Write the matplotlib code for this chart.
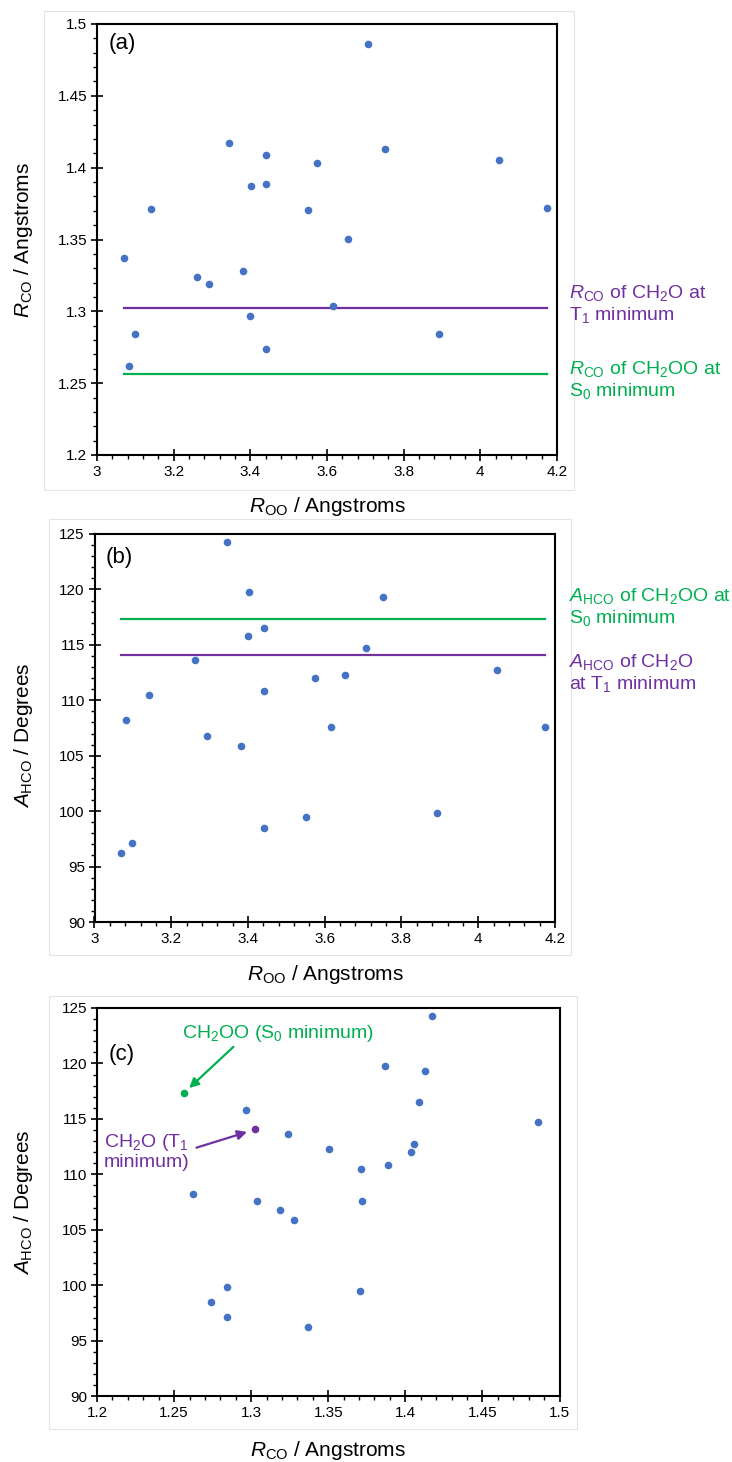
import matplotlib
matplotlib.use("Agg")
import matplotlib.pyplot as plt
from matplotlib.ticker import MultipleLocator
from matplotlib.patches import Rectangle

# ---------------- data ----------------
r_oo = [3.070, 3.083, 3.099, 3.141, 3.262, 3.293, 3.345, 3.382, 3.400, 3.402, 3.441,
        3.442, 3.442, 3.551, 3.575, 3.615, 3.654, 3.708, 3.752, 3.893, 4.049, 4.173]
r_co = [1.337, 1.262, 1.2845, 1.371, 1.324, 1.319, 1.417, 1.328, 1.2965, 1.387, 1.409,
        1.3887, 1.274, 1.3706, 1.4035, 1.3035, 1.3505, 1.486, 1.413, 1.2845, 1.4056, 1.372]
a_hco = [96.22, 108.25, 97.16, 110.47, 113.6, 106.8, 124.3, 105.9, 115.81, 119.78, 116.48,
         110.87, 98.48, 99.5, 112.05, 107.6, 112.25, 114.72, 119.34, 99.82, 112.69, 107.6]

rco_ch2o_t1 = 1.3025
rco_ch2oo_s0 = 1.2565
ahco_ch2oo_s0 = 117.35
ahco_ch2o_t1 = 114.04

# ---------------- style ----------------
plt.rcParams['font.family'] = ['Liberation Sans', 'DejaVu Sans']
plt.rcParams['mathtext.fontset'] = 'custom'
plt.rcParams['mathtext.rm'] = 'Liberation Sans'
plt.rcParams['mathtext.it'] = 'Liberation Sans:italic'

BLUE = '#4472C4'
PURPLE = '#7030A0'
GREEN = '#00B050'

W, H = 732, 1462
fig = plt.figure(figsize=(W / 100, H / 100), dpi=100)


def add_ax(l, r, t, b):
    return fig.add_axes([l / W, 1 - b / H, (r - l) / W, (b - t) / H])


def frame(l, t, r, b):
    fig.patches.append(Rectangle((l / W, 1 - b / H), (r - l) / W, (b - t) / H,
                                 transform=fig.transFigure, fill=False,
                                 edgecolor='#e4e4e4', linewidth=0.8, zorder=0))


def style(ax):
    for s in ax.spines.values():
        s.set_linewidth(1.5)
        s.set_color('black')
    ax.tick_params(which='major', direction='inout', length=8, width=1.2,
                   labelsize=11, pad=3)
    ax.tick_params(which='minor', direction='out', length=3, width=1.0)


frame(44, 11, 574, 490)
frame(49, 519, 571, 955)
frame(49, 996, 577, 1429)

# ---------------- panel (a) ----------------
ax1 = add_ax(97, 557, 24, 455)
ax1.scatter(r_oo, r_co, s=30, color=BLUE, zorder=3, linewidths=0)
xmin, xmax = min(r_oo), max(r_oo)
ax1.plot([xmin, xmax], [rco_ch2o_t1] * 2, color=PURPLE, lw=1.6)
ax1.plot([xmin, xmax], [rco_ch2oo_s0] * 2, color=GREEN, lw=1.6)
ax1.set_xlim(3, 4.2)
ax1.set_ylim(1.2, 1.5)
ax1.xaxis.set_major_locator(MultipleLocator(0.2))
ax1.xaxis.set_minor_locator(MultipleLocator(0.04))
ax1.yaxis.set_major_locator(MultipleLocator(0.05))
ax1.yaxis.set_minor_locator(MultipleLocator(0.01))
ax1.set_xticklabels([f'{v:g}' for v in ax1.get_xticks()])
ax1.set_yticklabels([f'{v:g}' for v in ax1.get_yticks()])
style(ax1)
ax1.text(0.025, 0.955, '(a)', transform=ax1.transAxes, fontsize=16, va='center', ha='left')

fig.text(569 / W, 1 - 304 / H, '$R_{\\rm CO}$ of CH$_2$O at\nT$_1$ minimum', color=PURPLE,
         fontsize=14, va='center', ha='left', linespacing=1.1)
fig.text(569 / W, 1 - 380 / H, '$R_{\\rm CO}$ of CH$_2$OO at\nS$_0$ minimum', color=GREEN,
         fontsize=14, va='center', ha='left', linespacing=1.1)
fig.text(327 / W, 1 - 506 / H, '$R_{\\rm OO}$ / Angstroms', fontsize=15, ha='center', va='center')
fig.text(24 / W, 1 - 240 / H, '$R_{\\rm CO}$ / Angstroms', fontsize=15, ha='center', va='center',
         rotation=90)

# ---------------- panel (b) ----------------
ax2 = add_ax(94.5, 555, 534, 922)
ax2.scatter(r_oo, a_hco, s=30, color=BLUE, zorder=3, linewidths=0)
ax2.plot([xmin, xmax], [ahco_ch2oo_s0] * 2, color=GREEN, lw=1.6)
ax2.plot([xmin, xmax], [ahco_ch2o_t1] * 2, color=PURPLE, lw=1.6)
ax2.set_xlim(3, 4.2)
ax2.set_ylim(90, 125)
ax2.xaxis.set_major_locator(MultipleLocator(0.2))
ax2.xaxis.set_minor_locator(MultipleLocator(0.04))
ax2.yaxis.set_major_locator(MultipleLocator(5))
ax2.yaxis.set_minor_locator(MultipleLocator(1))
ax2.set_xticklabels([f'{v:g}' for v in ax2.get_xticks()])
style(ax2)
ax2.text(0.025, 0.94, '(b)', transform=ax2.transAxes, fontsize=16, va='center', ha='left')

fig.text(569 / W, 1 - 607 / H, '$A_{\\rm HCO}$ of CH$_2$OO at\nS$_0$ minimum', color=GREEN,
         fontsize=14, va='center', ha='left', linespacing=1.1)
fig.text(569 / W, 1 - 673 / H, '$A_{\\rm HCO}$ of CH$_2$O\nat T$_1$ minimum', color=PURPLE,
         fontsize=14, va='center', ha='left', linespacing=1.1)
fig.text(325 / W, 1 - 975 / H, '$R_{\\rm OO}$ / Angstroms', fontsize=15, ha='center', va='center')
fig.text(24 / W, 1 - 735 / H, '$A_{\\rm HCO}$ / Degrees', fontsize=15, ha='center', va='center',
         rotation=90)

# ---------------- panel (c) ----------------
ax3 = add_ax(97, 559.5, 1008, 1396)
ax3.scatter(r_co, a_hco, s=30, color=BLUE, zorder=3, linewidths=0)
ax3.scatter([rco_ch2oo_s0], [ahco_ch2oo_s0], s=30, color=GREEN, zorder=4, linewidths=0)
ax3.scatter([rco_ch2o_t1], [ahco_ch2o_t1], s=30, color=PURPLE, zorder=4, linewidths=0)
ax3.set_xlim(1.2, 1.5)
ax3.set_ylim(90, 125)
ax3.xaxis.set_major_locator(MultipleLocator(0.05))
ax3.xaxis.set_minor_locator(MultipleLocator(0.01))
ax3.yaxis.set_major_locator(MultipleLocator(5))
ax3.yaxis.set_minor_locator(MultipleLocator(1))
ax3.set_xticklabels([f'{v:g}' for v in ax3.get_xticks()])
style(ax3)
ax3.text(0.025, 0.88, '(c)', transform=ax3.transAxes, fontsize=16, va='center', ha='left')

ax3.text(0.183, 0.935, 'CH$_2$OO (S$_0$ minimum)', transform=ax3.transAxes, color=GREEN,
         fontsize=14, va='center', ha='left')
ax3.annotate('', xy=(rco_ch2oo_s0, ahco_ch2oo_s0), xytext=(0.295, 0.90),
             textcoords='axes fraction',
             arrowprops=dict(arrowstyle='-|>', color=GREEN, lw=1.6, shrinkA=0, shrinkB=5,
                             mutation_scale=14))
ax3.text(0.015, 0.63, 'CH$_2$O (T$_1$\nminimum)', transform=ax3.transAxes, color=PURPLE,
         fontsize=14, va='center', ha='left', linespacing=1.1)
ax3.annotate('', xy=(rco_ch2o_t1, ahco_ch2o_t1), xytext=(0.215, 0.64),
             textcoords='axes fraction',
             arrowprops=dict(arrowstyle='-|>', color=PURPLE, lw=1.6, shrinkA=0, shrinkB=6,
                             mutation_scale=14))

fig.text(328 / W, 1 - 1450 / H, '$R_{\\rm CO}$ / Angstroms', fontsize=15, ha='center', va='center')
fig.text(24 / W, 1 - 1202 / H, '$A_{\\rm HCO}$ / Degrees', fontsize=15, ha='center', va='center',
         rotation=90)

fig.savefig('out.png', dpi=100, facecolor='white')
